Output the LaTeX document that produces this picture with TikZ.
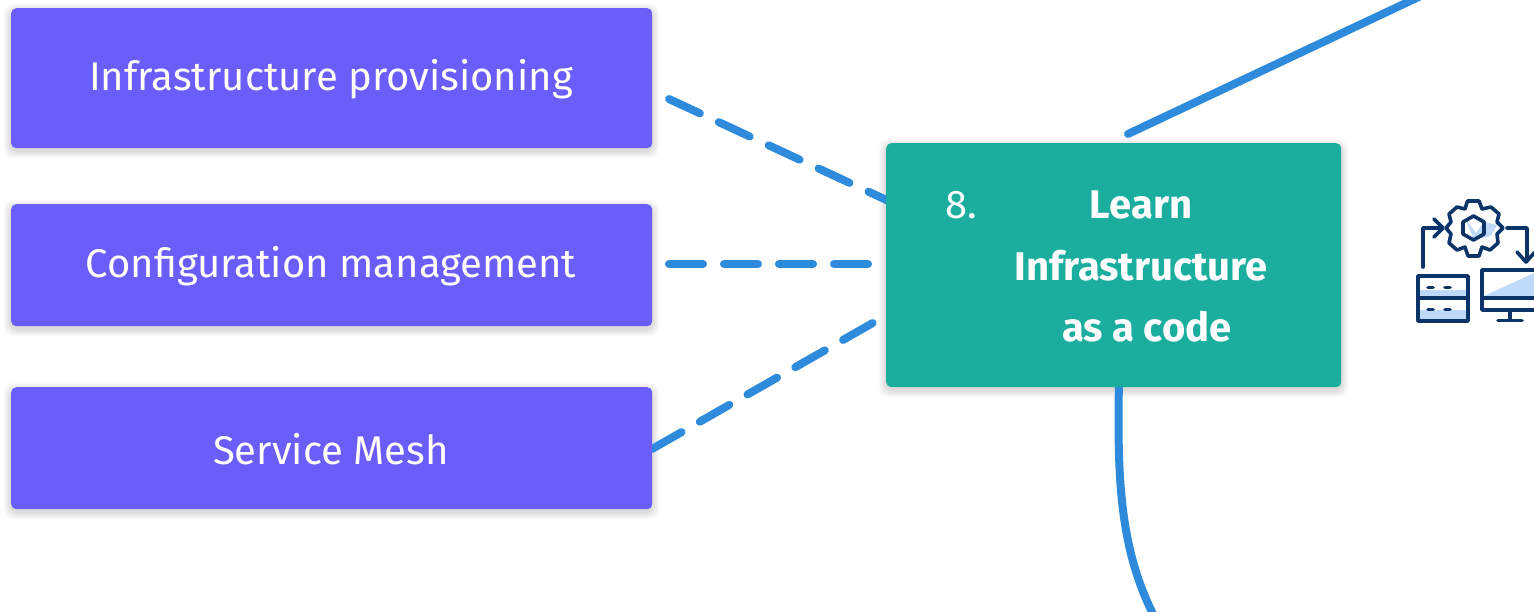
\documentclass[tikz,border=0pt]{standalone}
\usepackage{fontspec}
\setmainfont{Fira Sans}
\definecolor{pur}{HTML}{6A5DF9}
\definecolor{teal2}{HTML}{1BAE9F}
\definecolor{blu}{HTML}{2E8BDB}
\definecolor{navy}{HTML}{0B3468}
\definecolor{pale}{HTML}{BFD9FA}
\tikzset{
 x=1pt,y=-1pt,
 box/.style={draw=none,rounded corners=5pt,inner sep=0pt,text=white,font=\fontsize{40}{61}\selectfont,anchor=north west,align=center},
 purbox/.style={box,fill=pur},
 soft/.style={fill=black,opacity=0.018,rounded corners=9pt},
 dashline/.style={blu,line width=8pt,line cap=round,dash pattern=on 34pt off 21pt},
 solidline/.style={blu,line width=8pt},
 ico/.style={navy,line width=3.6pt,line join=round,line cap=round},
}
\newcommand{\softshadow}[4]{%
 \foreach \k in {1,...,7}{\fill[soft] (#1-\k,#2-\k+3) rectangle (#3+\k,#4+\k+3);}}
\begin{document}
\begin{tikzpicture}
\useasboundingbox (0,0) rectangle (1534,612);
\clip (0,0) rectangle (1534,612);
\fill[white] (0,0) rectangle (1534,612);
% shadows
\softshadow{11}{8}{652}{148}
\softshadow{11}{204}{652}{326}
\softshadow{11}{387}{652}{509}
\softshadow{886}{143}{1341}{387}
% free ends
\coordinate (a1) at (669,99);
\coordinate (a2) at (669,264);
\coordinate (a3) at (652,449);
\coordinate (b1) at (895,204);
\coordinate (b2) at (886,264);
\coordinate (b3) at (885,316);
\coordinate (topstart) at (1128,134);
\coordinate (topend) at (1425,-6);
\coordinate (botstart) at (1119,380);
\coordinate (botend) at (1155,618);
% connectors
\draw[dashline] (a1) -- (b1);
\draw[dashline] (a2) -- (b2);
\draw[dashline] (a3) -- (b3);
\draw[solidline,line cap=round] (topstart) -- (topend);
\draw[solidline] (botstart) .. controls (1117,480) and (1120,550) .. (botend);
% boxes
\node[purbox,minimum width=641pt,minimum height=140pt] (n1) at (11,8) {};
\node[purbox,minimum width=641pt,minimum height=122pt] (n2) at (11,204) {};
\node[purbox,minimum width=641pt,minimum height=122pt] (n3) at (11,387) {};
\node[box,fill=teal2,minimum width=455pt,minimum height=244pt] (n4) at (886,143) {};
\node[text=white,font=\fontsize{40}{40}\selectfont,inner sep=0pt] (t1) at (331,79) {Infrastructure provisioning};
\node[text=white,font=\fontsize{40}{40}\selectfont,inner sep=0pt] (t2) at (331,266) {Configuration management};
\node[text=white,font=\fontsize{40}{40}\selectfont,inner sep=0pt] (t3) at (331,449) {Service Mesh};
\node[text=white,font=\fontsize{40}{40}\selectfont,inner sep=0pt] (t4) at (961,205) {8.};
\node[text=white,font=\fontsize{40}{40}\selectfont\bfseries,inner sep=0pt] (t5) at (1141,205) {Learn};
\node[text=white,font=\fontsize{40}{40}\selectfont\bfseries,inner sep=0pt] (t6) at (1141,266) {Infrastructure};
\node[text=white,font=\fontsize{40}{40}\selectfont\bfseries,inner sep=0pt] (t7) at (1147,327) {as a code};
% icon
\begin{scope}
% pale fills
\fill[pale] (1420,290) rectangle (1466,297);
\fill[pale] (1420,310) rectangle (1466,319);
\fill[pale] (1484,296) -- (1534,273) -- (1534,296) -- cycle;
\fill[pale] (1465,218) -- (1474,240) -- (1491,236) -- (1497,225) -- (1484,222) -- (1476,233) -- cycle;
% gear
\draw[ico,fill=white,fill opacity=0] (1467.5,201) -- (1479,201) -- (1482,209) -- (1491,207) -- (1499,214) -- (1497,222)
 -- (1503,228) -- (1497,234) -- (1498,243) -- (1490,250) -- (1482,247) -- (1479,256) -- (1468,256) -- (1465,247)
 -- (1457,250) -- (1449,243) -- (1451,234) -- (1446,228) -- (1451,222) -- (1449,214) -- (1457,207) -- (1465,209) -- cycle;
\draw[ico] (1473.5,216) -- (1484,222) -- (1484,234) -- (1473.5,240) -- (1463,234) -- (1463,222) -- cycle;
% arrows
\draw[ico] (1423,267) -- (1423,228) -- (1441,228);
\draw[ico] (1434,219) -- (1443,228) -- (1434,237);
\draw[ico] (1507,228) -- (1527,228) -- (1527,261);
\draw[ico] (1517,252) -- (1526,262) -- (1535,252);
% server
\draw[ico] (1418,276) rectangle (1468,321);
\draw[ico] (1418,298) -- (1468,298);
\draw[ico] (1428,287.5) -- (1433,287.5) (1445,287.5) -- (1450,287.5);
\draw[ico] (1428,309.5) -- (1433,309.5) (1445,309.5) -- (1450,309.5);
% monitor
\draw[ico] (1540,270) -- (1482,270) -- (1482,310) -- (1540,310);
\draw[ico] (1482,298) -- (1540,298);
\draw[ico] (1510,311) -- (1510,320);
\draw[ico] (1498,320.5) -- (1522,320.5);
\end{scope}
\end{tikzpicture}
\end{document}
